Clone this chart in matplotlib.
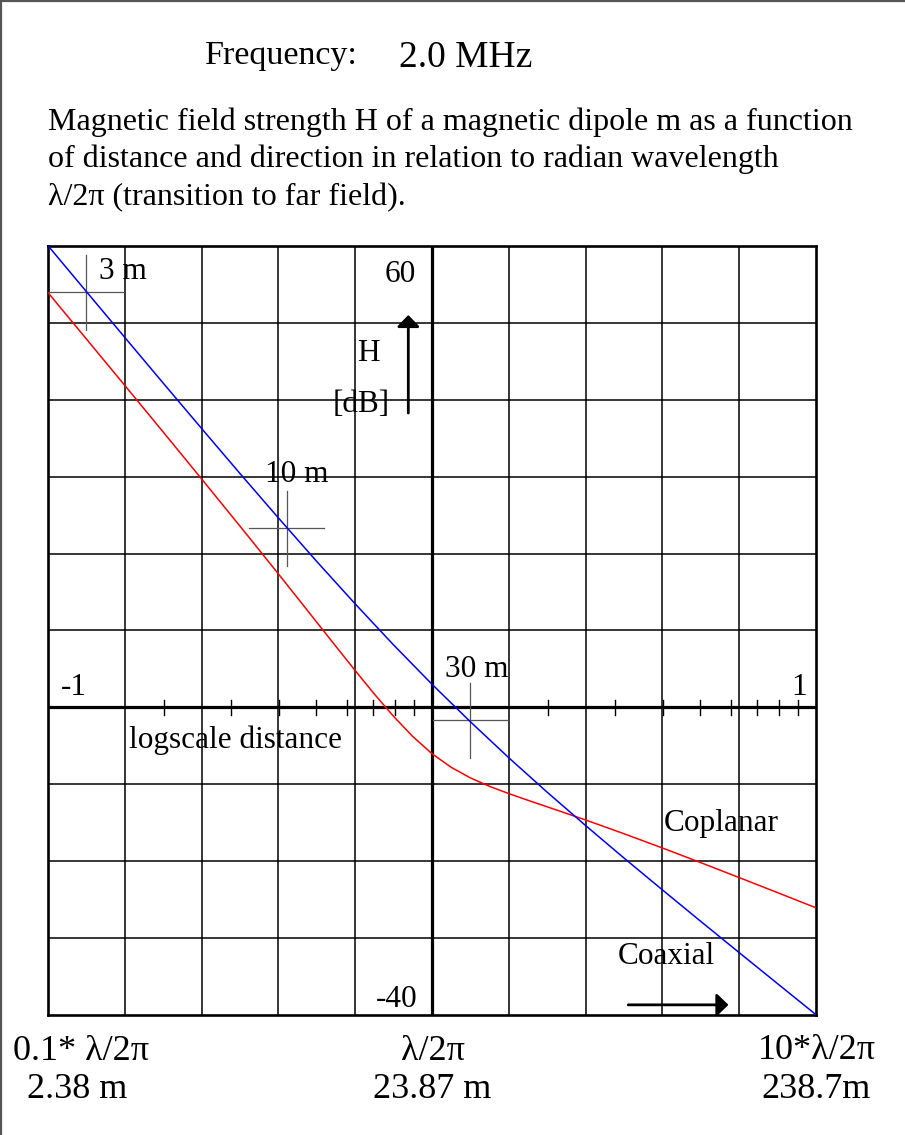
import matplotlib
matplotlib.use('Agg')
import matplotlib.pyplot as plt
from matplotlib.lines import Line2D
import numpy as np

plt.rcParams['font.family'] = ['Liberation Serif', 'DejaVu Serif']

W, H = 905, 1135
LAMBDA_2PI = 23.87  # m, radian wavelength at 2.0 MHz

# x values: log10(distance / (lambda/2pi))
x_coax = [-1.0, -0.9, -0.8, -0.7, -0.6, -0.5, -0.4, -0.3, -0.2, -0.1, 0.0,
          0.1, 0.2, 0.3, 0.4, 0.5, 0.6, 0.7, 0.8, 0.9, 1.0]
h_coax = [60.04, 54.07, 48.11, 42.17, 36.27, 30.41, 24.64, 18.97, 13.46, 8.12, 3.01,
          -1.87, -6.55, -11.03, -15.36, -19.59, -23.73, -27.83, -31.89, -35.93, -39.96]

x_copl = [-1.0, -0.9, -0.8, -0.7, -0.6, -0.5, -0.45, -0.4, -0.35, -0.3, -0.25, -0.2,
          -0.15, -0.1, -0.05, 0.0, 0.05, 0.1, 0.15, 0.2, 0.25, 0.3, 0.35, 0.4, 0.45,
          0.5, 0.6, 0.7, 0.8, 0.9, 1.0]
h_copl = [53.94, 47.91, 41.87, 35.81, 29.71, 23.57, 20.47, 17.36, 14.22, 11.07, 7.92, 4.79,
          1.73, -1.17, -3.79, -6.02, -7.79, -9.17, -10.27, -11.21, -12.08, -12.93, -13.78,
          -14.64, -15.53, -16.43, -18.28, -20.19, -22.13, -24.09, -26.06]

cross_dist = [3, 10, 30]          # m
cross_h = [54.0, 23.3, -1.7]      # dB on coaxial curve
cross_labels = ['3 m', '10 m', '30 m']

x_grid = [-0.8, -0.6, -0.4, -0.2, 0.2, 0.4, 0.6, 0.8]
y_grid = [50, 40, 30, 20, 10, -10, -20, -30]

title_left = 'Frequency:'
title_right = '2.0 MHz'
para = ['Magnetic field strength H of a magnetic dipole m as a function',
        'of distance and direction in relation to radian wavelength',
        '\u03bb/2\u03c0 (transition to far field).']
bottom_top = ['0.1* \u03bb/2\u03c0', '\u03bb/2\u03c0', '10*\u03bb/2\u03c0']
bottom_bot = ['2.38 m', '23.87 m', '238.7m']

fig = plt.figure(figsize=(W / 100, H / 100), dpi=100)
fig.patch.set_facecolor('white')


def ft(x, y, s, **kw):
    fig.text(x / W, 1 - y / H, s, va='baseline', **kw)


# frame lines (top and left visible)
fig.add_artist(Line2D([0, 1], [1 - 1.2 / H, 1 - 1.2 / H], color='#555555', lw=1.6,
                      transform=fig.transFigure))
fig.add_artist(Line2D([1.2 / W, 1.2 / W], [0, 1], color='#555555', lw=1.6,
                      transform=fig.transFigure))

# header texts
ft(205, 64, title_left, fontsize=24.5)
ft(399, 67, title_right, fontsize=27)
for i, line in enumerate(para):
    ft(47.5, 130 + 37.5 * i, line, fontsize=23)

ax = fig.add_axes([48 / W, 1 - 1015 / H, 768 / W, 769 / H])
ax.set_xlim(-1, 1)
ax.set_ylim(-40, 60)
ax.set_xticks([])
ax.set_yticks([])
for sp in ax.spines.values():
    sp.set_linewidth(1.9)
    sp.set_color('black')

for gx in x_grid:
    ax.axvline(gx, color='black', lw=1.1, zorder=1)
for gy in y_grid:
    ax.axhline(gy, color='black', lw=1.1, zorder=1)
ax.axhline(0, color='black', lw=2.3, zorder=2)
ax.axvline(0, color='black', lw=2.3, zorder=2)

# logarithmic minor ticks on the distance axis
for k in range(2, 10):
    for dec in (-1, 0):
        tx = np.log10(k) + dec
        ax.plot([tx, tx], [-0.95, 0.95], color='black', lw=1.0, zorder=2)

# curves
ax.plot(x_copl, h_copl, color='#ff0000', lw=1.1, zorder=4)
ax.plot(x_coax, h_coax, color='#0000ff', lw=1.1, zorder=4)

# distance markers
for d, hv in zip(cross_dist, cross_h):
    cx = np.log10(d / LAMBDA_2PI)
    ax.plot([cx - 0.0977, cx + 0.0977], [hv, hv], color='#555555', lw=0.9, zorder=3)
    ax.plot([cx, cx], [hv - 4.88, hv + 4.88], color='#555555', lw=0.9, zorder=3)

fs = 22.5
ax.text(-0.867, 55.7, cross_labels[0], fontsize=fs, va='baseline', ha='left', zorder=5)
ax.text(-0.435, 29.35, cross_labels[1], fontsize=fs, va='baseline', ha='left', zorder=5)
ax.text(0.034, 4.0, cross_labels[2], fontsize=fs, va='baseline', ha='left', zorder=5)
ax.text(-0.042, 55.36, '60', fontsize=fs, va='baseline', ha='right', zorder=5)
ax.text(-0.195, 45.05, 'H', fontsize=fs, va='baseline', ha='left', zorder=5)
ax.text(-0.258, 38.4, '[dB]', fontsize=fs, va='baseline', ha='left', zorder=5)
ax.text(-0.967, 1.63, '-1', fontsize=fs, va='baseline', ha='left', zorder=5)
ax.text(0.976, 1.63, '1', fontsize=fs, va='baseline', ha='right', zorder=5)
ax.text(-0.789, -5.28, 'logscale distance', fontsize=fs, va='baseline', ha='left', zorder=5)
ax.text(0.604, -16.1, 'Coplanar', fontsize=fs, va='baseline', ha='left', zorder=5)
ax.text(0.4826, -33.4, 'Coaxial', fontsize=fs, va='baseline', ha='left', zorder=5)
ax.text(-0.0383, -38.92, '-40', fontsize=fs, va='baseline', ha='right', zorder=5)

arrow_style = dict(arrowstyle='-|>,head_length=0.7,head_width=0.68', lw=2.0,
                   color='black', shrinkA=0, shrinkB=0, mutation_scale=10)
ax.annotate('', xy=(-0.0617, 51.03), xytext=(-0.0617, 38.28), arrowprops=arrow_style,
            annotation_clip=False)
ax.annotate('', xy=(0.772, -38.68), xytext=(0.511, -38.68), arrowprops=arrow_style,
            annotation_clip=False)

# bottom distance labels
bfs = 26
ft(12.7, 1060, bottom_top[0], fontsize=bfs, ha='left')
ft(26.7, 1098, bottom_bot[0], fontsize=bfs, ha='left')
ft(432.5, 1060, bottom_top[1], fontsize=bfs, ha='center')
ft(432.5, 1098, bottom_bot[1], fontsize=bfs, ha='center')
ft(816.7, 1059, bottom_top[2], fontsize=bfs, ha='center')
ft(816.3, 1098, bottom_bot[2], fontsize=bfs, ha='center')

fig.savefig('out.png', dpi=100, facecolor='white')
